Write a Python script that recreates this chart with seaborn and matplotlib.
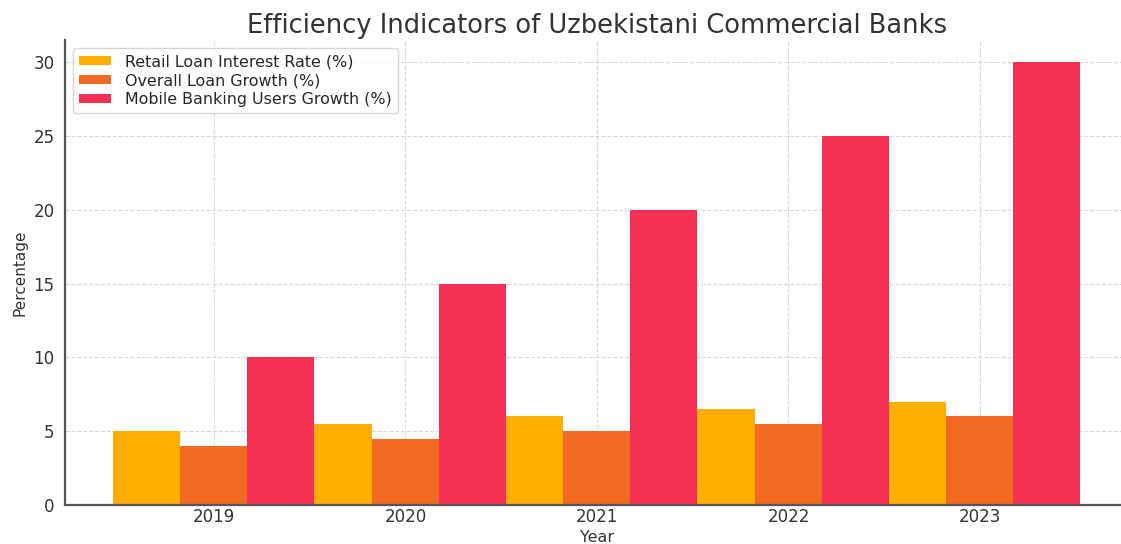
import matplotlib.pyplot as plt
import pandas as pd
import seaborn as sns

years = [2019, 2020, 2021, 2022, 2023]
retail_rate = [5.0, 5.5, 6.0, 6.5, 7.0]
loan_growth = [4.0, 4.5, 5.0, 5.5, 6.0]
mobile_growth = [10, 15, 20, 25, 30]
labels = ['Retail Loan Interest Rate (%)',
          'Overall Loan Growth (%)',
          'Mobile Banking Users Growth (%)']
colors = ['#FFAE00', '#F26A22', '#F43155']

df = pd.DataFrame({
    'Year': years * 3,
    'Value': retail_rate + loan_growth + mobile_growth,
    'Indicator': [labels[0]] * 5 + [labels[1]] * 5 + [labels[2]] * 5,
})

sns.set_theme(style="whitegrid")
plt.rcParams['font.family'] = ['DejaVu Sans']

fig = plt.figure(figsize=(11.21, 5.44), dpi=100)
ax = fig.add_axes([0.058, 0.0717, 0.949, 0.855])

sns.barplot(data=df, x='Year', y='Value', hue='Indicator', palette=colors,
            native_scale=True, width=1.05, saturation=1, errorbar=None,
            linewidth=0, ax=ax)

ax.set_xticks(years)
ax.set_xticklabels([str(y) for y in years])
ax.grid(True, linestyle='--', color='#d8d8d8', linewidth=0.8)
ax.set_axisbelow(True)
for side in ['top', 'right']:
    ax.spines[side].set_visible(False)
for side in ['left', 'bottom']:
    ax.spines[side].set_visible(True)
    ax.spines[side].set_color('#555555')
    ax.spines[side].set_linewidth(1.6)
ax.tick_params(axis='both', length=4, width=1, color='#555555',
               labelsize=12, labelcolor='#333333')
ax.tick_params(axis='x', pad=-1.5)

ax.set_title('Efficiency Indicators of Uzbekistani Commercial Banks',
             fontsize=18.5, color='#333333', pad=5)
ax.set_ylabel('Percentage', fontsize=11, color='#333333')
ax.set_xlabel('Year', fontsize=11.5, color='#333333', labelpad=2.5)

sns.move_legend(ax, 'upper left', title=None, fontsize=11.4, frameon=True,
                bbox_to_anchor=(0.0, 1.0), borderaxespad=0.5,
                labelspacing=0.25, handlelength=2.0, handleheight=0.55,
                handletextpad=0.9)
ax.get_legend().get_frame().set_edgecolor('#cccccc')

plt.savefig('out.png', dpi=100)
